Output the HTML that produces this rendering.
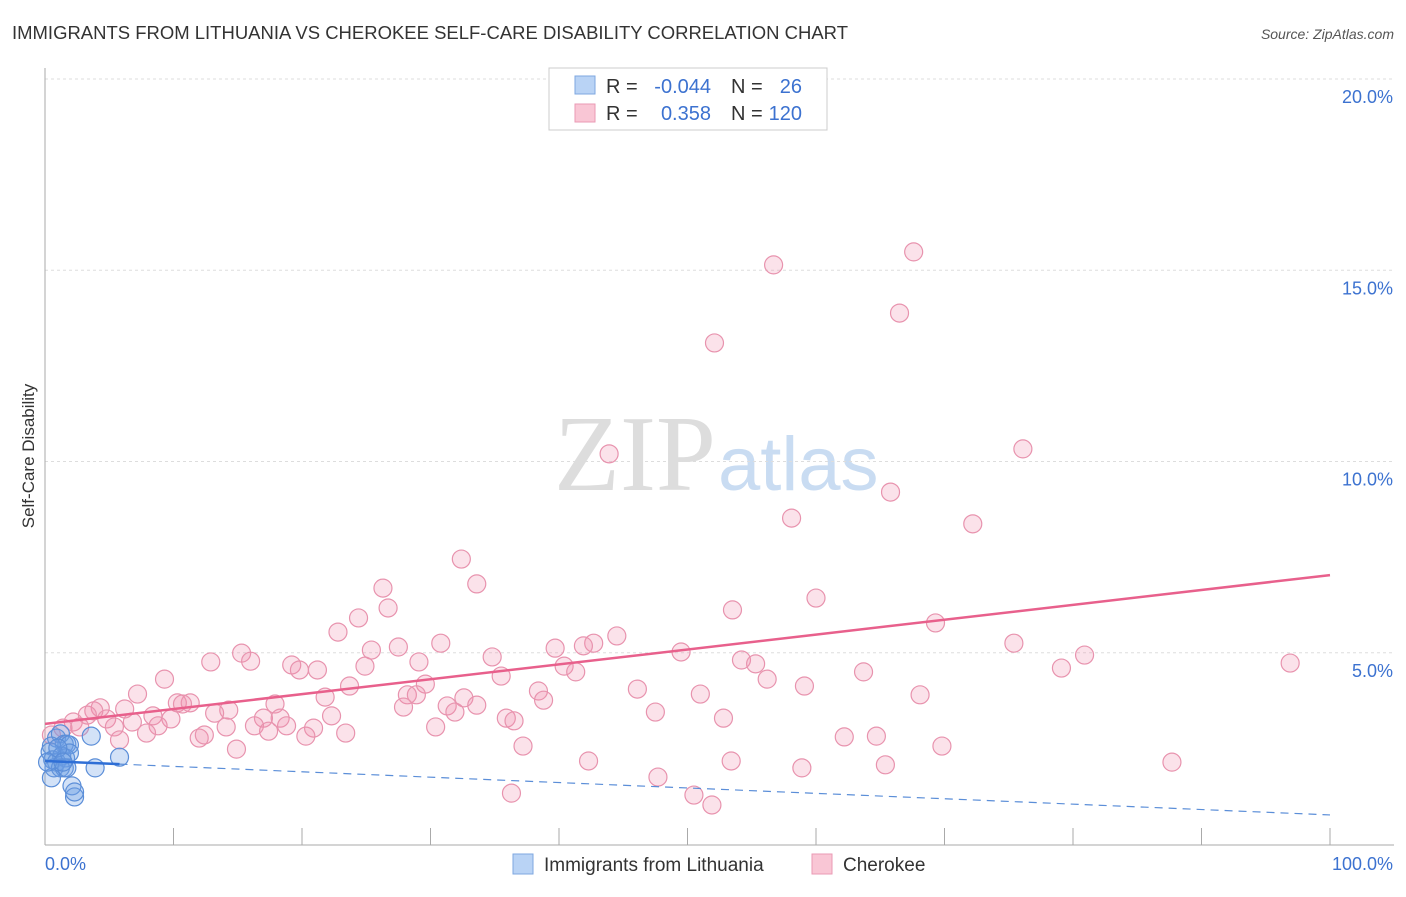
<!DOCTYPE html>
<html><head><meta charset="utf-8"><style>
body{margin:0;background:#fff;font-family:"Liberation Sans",sans-serif}
svg text{font-family:"Liberation Sans",sans-serif}
</style></head><body>
<svg id="c" width="1406" height="892">
<text x="12" y="39" font-size="18" fill="#333" textLength="836" lengthAdjust="spacingAndGlyphs">IMMIGRANTS FROM LITHUANIA VS CHEROKEE SELF-CARE DISABILITY CORRELATION CHART</text>
<text x="1394" y="39" font-size="14" fill="#555" font-style="italic" text-anchor="end">Source: ZipAtlas.com</text>
<text x="34" y="456" font-size="17" fill="#333" text-anchor="middle" transform="rotate(-90 34 456)">Self-Care Disability</text>
<text x="716" y="490" font-size="108" fill="#ddd" text-anchor="end" style="font-family:'Liberation Serif',serif">ZIP</text>
<text x="718" y="490" font-size="76" fill="#c9dcf2">atlas</text>
<g id="grid"></g><g id="pts"></g><g id="lines"></g>
<g>
<rect x="549" y="68" width="278" height="62" fill="#fff" stroke="#ccc"/>
<rect x="575" y="76" width="20" height="18" fill="#b9d3f5" stroke="#7ea7e0"/>
<rect x="575" y="104" width="20" height="18" fill="#f9c6d5" stroke="#ea9ab4"/>
<text x="606" y="93" font-size="20" fill="#333">R =</text>
<text x="711" y="93" font-size="20" fill="#3c72d0" text-anchor="end">-0.044</text>
<text x="731" y="93" font-size="20" fill="#333">N =</text>
<text x="802" y="93" font-size="20" fill="#3c72d0" text-anchor="end">26</text>
<text x="606" y="120" font-size="20" fill="#333">R =</text>
<text x="711" y="120" font-size="20" fill="#3c72d0" text-anchor="end">0.358</text>
<text x="731" y="120" font-size="20" fill="#333">N =</text>
<text x="802" y="120" font-size="20" fill="#3c72d0" text-anchor="end">120</text>
</g>
<g>
<rect x="513" y="854" width="20" height="20" fill="#b9d3f5" stroke="#7ea7e0"/>
<text x="544" y="871" font-size="19" fill="#333">Immigrants from Lithuania</text>
<rect x="812" y="854" width="20" height="20" fill="#f9c6d5" stroke="#ea9ab4"/>
<text x="843" y="871" font-size="19" fill="#333">Cherokee</text>
</g>
</svg>
<script>
const yTicks=[5,10,15,20];
const yTickLabels=["5.0%","10.0%","15.0%","20.0%"];
const xTickLabels=["0.0%","100.0%"];
const pinkX=[67.6,56.7,66.5,52.1,43.9,76.1,65.8,58.1,72.2,32.4,33.6,26.3,26.7,53.5,60.0,24.4,22.8,69.3,44.5,42.7,30.8,27.5,25.4,39.7,41.9,15.3,16.0,12.9,19.2,19.8,21.2,24.9,29.1,34.8,40.4,41.3,49.5,54.2,55.3,75.4,80.9,79.1,96.9,9.3,35.5,29.6,23.7,56.2,63.7,59.1,46.1,38.4,51.0,68.1,7.2,21.8,28.2,28.9,32.6,38.8,10.3,11.3,10.7,17.9,27.9,31.3,33.6,4.3,3.8,6.2,14.3,13.2,31.9,47.5,8.4,9.8,3.3,4.8,17.0,18.3,22.3,35.9,36.5,52.8,2.2,6.8,8.8,14.1,16.3,18.8,20.9,30.4,1.4,2.7,5.4,7.9,17.4,23.4,12.0,12.4,20.3,62.2,64.7,5.8,0.5,14.9,37.2,69.8,42.3,53.4,65.4,87.7,58.9,47.7,36.3,50.5,51.9];
const pinkY=[15.48,15.14,13.88,13.10,10.20,10.33,9.20,8.52,8.37,7.45,6.80,6.69,6.17,6.12,6.43,5.91,5.54,5.78,5.44,5.25,5.25,5.15,5.07,5.12,5.18,4.99,4.78,4.76,4.68,4.55,4.55,4.65,4.76,4.89,4.65,4.50,5.02,4.81,4.71,5.25,4.94,4.60,4.73,4.31,4.39,4.18,4.13,4.31,4.50,4.13,4.05,4.00,3.92,3.90,3.92,3.84,3.90,3.90,3.82,3.76,3.69,3.69,3.66,3.66,3.58,3.61,3.63,3.56,3.48,3.53,3.50,3.42,3.45,3.45,3.35,3.27,3.37,3.27,3.29,3.29,3.35,3.29,3.22,3.29,3.19,3.19,3.09,3.06,3.09,3.09,3.03,3.06,3.03,3.06,3.06,2.90,2.95,2.90,2.77,2.85,2.82,2.80,2.82,2.72,2.85,2.48,2.56,2.56,2.17,2.17,2.07,2.14,1.99,1.75,1.33,1.28,1.02];
const blueX=[0.9,1.2,1.5,1.7,1.9,0.5,0.4,0.6,0.9,1.3,1.6,1.9,0.7,1.2,1.5,1.7,0.5,2.1,2.3,2.3,3.6,3.9,5.8,0.2,1.0,1.4];
const blueY=[2.77,2.88,2.61,2.61,2.59,2.56,2.41,2.20,2.14,2.30,2.25,2.38,1.99,1.99,1.99,1.99,1.73,1.52,1.23,1.36,2.82,1.99,2.27,2.14,2.51,2.14];
const pinkTrend=[3.14,7.03];
const blueTrend=[2.17,0.76];
const NS="http://www.w3.org/2000/svg";
const X=v=>45+v*12.85, Y=v=>844-v*38.25;
function mk(t,a,p){const e=document.createElementNS(NS,t);for(const k in a)e.setAttribute(k,a[k]);p.appendChild(e);return e;}
const g=document.getElementById('grid');
yTicks.forEach((t,i)=>{
 const l=mk('line',{x1:45,x2:1394,y1:Y(t),y2:Y(t),stroke:'#ddd','stroke-dasharray':'3,3'},g);
 
 
 const tx=mk('text',{x:1393,y:Y(t)+24,'font-size':18,fill:'#3c72d0','text-anchor':'end'},g);
 tx.textContent=yTickLabels[i];
 
 
});
const ax=mk('line',{x1:45,x2:45,y1:68,y2:845,stroke:'#aaa'},g);


const bx=mk('line',{x1:45,x2:1394,y1:845,y2:845,stroke:'#aaa'},g);


for(let k=0;k<=10;k++){const t=mk('line',{x1:X(k*10),x2:X(k*10),y1:828,y2:845,stroke:'#aaa'},g);
 
 }
[[0,'start',45],[1,'end',1393]].forEach(([i,a,x])=>{const t=mk('text',{x:x,y:870,'font-size':18,fill:'#3c72d0','text-anchor':a},g);t.textContent=xTickLabels[i];
 
 });
const p=document.getElementById('pts');
pinkX.forEach((v,i)=>{const c=mk('circle',{cx:X(v),cy:Y(pinkY[i]),r:9,fill:'rgba(240,140,170,0.25)',stroke:'#e893ae','stroke-width':1.2},p);
 
 });
blueX.forEach((v,i)=>{const c=mk('circle',{cx:X(v),cy:Y(blueY[i]),r:9,fill:'rgba(110,160,230,0.3)',stroke:'#5b8ed8','stroke-width':1.2},p);
 
 });
const L=document.getElementById('lines');
const pl=mk('line',{x1:X(0),y1:Y(pinkTrend[0]),x2:X(100),y2:Y(pinkTrend[1]),stroke:'#e8608c','stroke-width':2.5},L);


const bf=v=>blueTrend[0]+(blueTrend[1]-blueTrend[0])*v/100;
const bl=mk('line',{x1:X(0),y1:Y(bf(0)),x2:X(5.8),y2:Y(bf(5.8)),stroke:'#2f6fd6','stroke-width':2.5},L);


const bd=mk('line',{x1:X(5.8),y1:Y(bf(5.8)),x2:X(100),y2:Y(bf(100)),stroke:'#5b8ed8','stroke-width':1.2,'stroke-dasharray':'8,6'},L);


</script>
</body></html>
